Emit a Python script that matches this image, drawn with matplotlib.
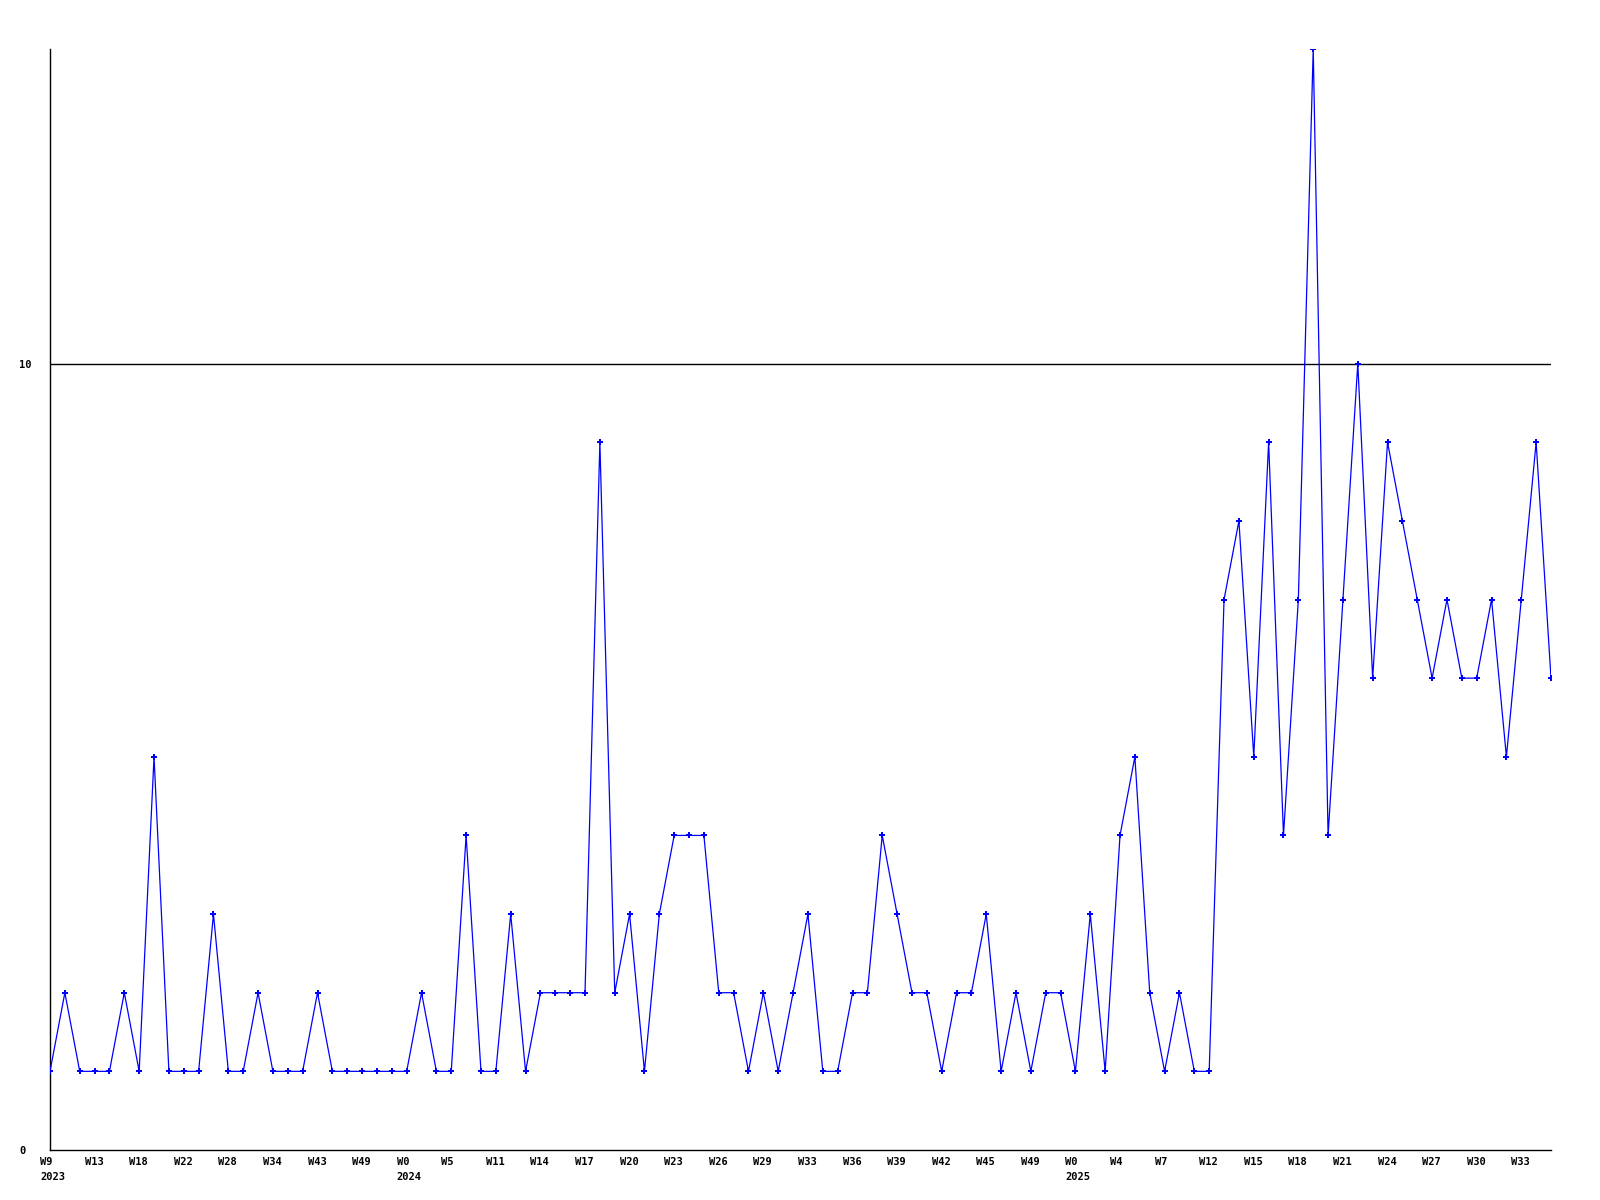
import numpy as np
import matplotlib
matplotlib.use('Agg')
import matplotlib.pyplot as plt
from matplotlib.transforms import ScaledTranslation

# weekly counts, one per sampled week
values = [1, 2, 1, 1, 1, 2, 1, 5, 1, 1,
          1, 3, 1, 1, 2, 1, 1, 1, 2, 1,
          1, 1, 1, 1, 1, 2, 1, 1, 4, 1,
          1, 3, 1, 2, 2, 2, 2, 9, 2, 3,
          1, 3, 4, 4, 4, 2, 2, 1, 2, 1,
          2, 3, 1, 1, 2, 2, 4, 3, 2, 2,
          1, 2, 2, 3, 1, 2, 1, 2, 2, 1,
          3, 1, 4, 5, 2, 1, 2, 1, 1, 7,
          8, 5, 9, 4, 7, 14, 4, 7, 10, 6,
          9, 8, 7, 6, 7, 6, 6, 7, 5, 7,
          9, 6]

# labels shown on every third point
tick_labels = ['W9\n2023', 'W13', 'W18', 'W22', 'W28', 'W34', 'W43', 'W49',
               'W0\n2024', 'W5', 'W11', 'W14', 'W17', 'W20', 'W23', 'W26',
               'W29', 'W33', 'W36', 'W39', 'W42', 'W45', 'W49',
               'W0\n2025', 'W4', 'W7', 'W12', 'W15', 'W18', 'W21', 'W24',
               'W27', 'W30', 'W33']
tick_step = 3

x = np.arange(len(values))

fig = plt.figure(figsize=(16, 12), dpi=100)
ax = fig.add_axes([50/1600, 1 - 1150/1200, 1501/1600, 1101/1200])

ax.axhline(10, color='black', lw=1.0, zorder=1)
ax.plot(x, values, color='#0000ff', lw=0.9, marker='P', markersize=5,
        markeredgewidth=0, zorder=3)

ax.set_xlim(0, len(values) - 1)
ax.set_ylim(0, 14)

for s in ['top', 'right']:
    ax.spines[s].set_visible(False)
for s in ['left', 'bottom']:
    ax.spines[s].set_color('black')
    ax.spines[s].set_linewidth(1.0)

font = dict(family='DejaVu Sans Mono', weight='bold', size=7.5)

ax.set_xticks(x[::tick_step])
ax.set_xticklabels(tick_labels, **font)
ax.tick_params(axis='x', length=0, pad=5)
shift = ScaledTranslation(-10/100, 0, fig.dpi_scale_trans)
for lab in ax.get_xticklabels():
    lab.set_horizontalalignment('left')
    lab.set_linespacing(1.6)
    lab.set_transform(lab.get_transform() + shift)

ax.set_yticks([0, 10])
ax.set_yticklabels(['0', '10'], **font)
ax.tick_params(axis='y', length=0, pad=22)
for lab in ax.get_yticklabels():
    lab.set_horizontalalignment('left')

fig.savefig('out.png', dpi=100, facecolor='white')
